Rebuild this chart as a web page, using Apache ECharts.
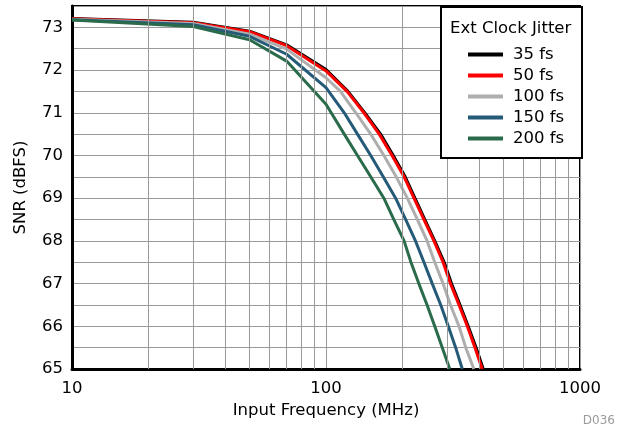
<!DOCTYPE html>
<html>
<head>
<meta charset="utf-8">
<script src="https://cdn.jsdelivr.net/npm/echarts@6/dist/echarts.min.js"></script>
<style>
html,body{margin:0;padding:0;background:#fff;}
#c{width:619px;height:428px;}
</style>
</head>
<body>
<div id="c"></div>
<script>
// ---- data ----
var seriesNames = ['35 fs', '50 fs', '100 fs', '150 fs', '200 fs'];
var seriesColors = ['#000000', '#ff0000', '#aeaeae', '#255a78', '#2a6b4b'];

var freq35 = [10, 30, 50, 70, 100, 122, 142, 164, 184, 205, 224, 245, 268, 292, 312, 337, 363, 390, 416];
var snr35  = [73.21, 73.12, 72.91, 72.59, 72.01, 71.5, 71.0, 70.5, 70.0, 69.5, 69.0, 68.5, 68.0, 67.5, 67.0, 66.5, 66.0, 65.5, 65.0];

var freq50 = [10, 30, 50, 70, 100, 121, 141, 162, 182, 203, 222, 243, 266, 289, 309, 334, 360, 386, 412];
var snr50  = [73.2, 73.11, 72.9, 72.57, 71.98, 71.5, 71.0, 70.5, 70.0, 69.5, 69.0, 68.5, 68.0, 67.5, 67.0, 66.5, 66.0, 65.5, 65.0];

var freq100 = [10, 30, 50, 70, 100, 114, 131, 150, 169, 189, 209, 229, 250, 268, 289, 309, 334, 355, 382];
var snr100  = [73.19, 73.09, 72.84, 72.49, 71.82, 71.5, 71.0, 70.5, 70.0, 69.5, 69.0, 68.5, 68.0, 67.5, 67.0, 66.5, 66.0, 65.5, 65.0];

var freq150 = [10, 30, 50, 70, 100, 118, 133, 150, 168, 188, 206, 225, 243, 262, 283, 303, 324, 344];
var snr150  = [73.18, 73.06, 72.79, 72.37, 71.59, 71.0, 70.5, 70.0, 69.5, 69.0, 68.5, 68.0, 67.5, 67.0, 66.5, 66.0, 65.5, 65.0];

var freq200 = [10, 30, 50, 70, 100, 118, 133, 150, 169, 185, 203, 216, 232, 250, 268, 287, 307];
var snr200  = [73.17, 73.02, 72.71, 72.21, 71.2, 70.5, 70.0, 69.5, 69.0, 68.5, 68.0, 67.5, 67.0, 66.5, 66.0, 65.5, 65.0];

var xMinorGrid = [20, 30, 40, 50, 60, 70, 80, 90, 200, 300, 400, 500, 600, 700, 800, 900];
var xMin = 10, xMax = 1000;
var yMin = 65, yMax = 73.5, yStep = 0.5;

var freqs = [freq35, freq50, freq100, freq150, freq200];
var snrs = [snr35, snr50, snr100, snr150, snr200];

function pairs(xs, ys) {
  var out = [];
  for (var i = 0; i < xs.length; i++) out.push([xs[i], ys[i]]);
  return out;
}

var FONT = '"DejaVu Sans", "Liberation Sans", Arial, sans-serif';
var FS = 16.5;

var series = [{
  name: 'grid',
  type: 'line',
  data: [[xMin, yMin], [xMin, yMin]],
  symbol: 'none',
  lineStyle: { opacity: 0 },
  silent: true,
  z: 1,
  markLine: {
    silent: true,
    symbol: 'none',
    label: { show: false },
    lineStyle: { type: 'solid', color: '#9a9a9a', width: 1 },
    animation: false,
    data: xMinorGrid.map(function (v) { return { xAxis: v }; })
  }
}];

for (var k = 0; k < seriesNames.length; k++) {
  series.push({
    name: seriesNames[k],
    type: 'line',
    data: pairs(freqs[k], snrs[k]),
    symbol: 'none',
    smooth: false,
    z: 2,
    lineStyle: { color: seriesColors[k], width: 3 },
    itemStyle: { color: seriesColors[k] }
  });
}

var chart = echarts.init(document.getElementById('c'), null, { renderer: 'canvas' });
chart.setOption({
  animation: false,
  backgroundColor: '#ffffff',
  textStyle: { fontFamily: FONT },
  grid: {
    left: 72, right: 39, top: 6, bottom: 59,
    show: true, borderColor: '#000', borderWidth: 2, backgroundColor: 'transparent'
  },
  xAxis: {
    type: 'log',
    logBase: 10,
    min: xMin,
    max: xMax,
    name: 'Input Frequency (MHz)',
    nameLocation: 'middle',
    nameGap: 33,
    nameTextStyle: { fontSize: FS, color: '#000', fontFamily: FONT },
    axisLine: { show: true, lineStyle: { color: '#000', width: 3 } },
    axisTick: { show: false },
    axisLabel: {
      fontSize: FS, color: '#000', margin: 11, fontFamily: FONT,
      formatter: function (v) { return String(Math.round(v)); }
    },
    splitLine: { show: true, lineStyle: { color: '#9a9a9a', width: 1 } }
  },
  yAxis: {
    type: 'value',
    min: yMin,
    max: yMax,
    interval: yStep,
    name: 'SNR (dBFS)',
    nameLocation: 'middle',
    nameRotate: 90,
    nameGap: 43,
    nameTextStyle: { fontSize: FS, color: '#000', fontFamily: FONT },
    axisLine: { show: true, lineStyle: { color: '#000', width: 3 } },
    axisTick: { show: false },
    axisLabel: {
      fontSize: FS, color: '#000', margin: 9, fontFamily: FONT,
      formatter: function (v) { return Math.abs(v - Math.round(v)) < 1e-6 ? String(Math.round(v)) : ''; }
    },
    splitLine: { show: true, lineStyle: { color: '#9a9a9a', width: 1 } }
  },
  legend: {
    data: seriesNames,
    orient: 'vertical',
    left: 463,
    top: 39,
    z: 100,
    itemWidth: 35,
    itemHeight: 4,
    itemGap: 0,
    icon: 'rect',
    textStyle: { fontSize: FS, color: '#000', fontFamily: FONT, lineHeight: 21, padding: [0, 0, 0, 5] },
    selectedMode: false
  },
  graphic: [
    {
      type: 'rect',
      left: 440, top: 6,
      shape: { width: 141, height: 151 },
      style: { fill: '#fff', stroke: '#000', lineWidth: 2 },
      z: 50
    },
    {
      type: 'text',
      left: 450, top: 20,
      style: { text: 'Ext Clock Jitter', fill: '#000', font: FS + 'px ' + FONT },
      z: 51
    },
    {
      type: 'text',
      right: 4, bottom: 1,
      style: { text: 'D036', fill: '#9a9a9a', font: '12px ' + FONT },
      z: 51
    }
  ],
  series: series
});
</script>
</body>
</html>
